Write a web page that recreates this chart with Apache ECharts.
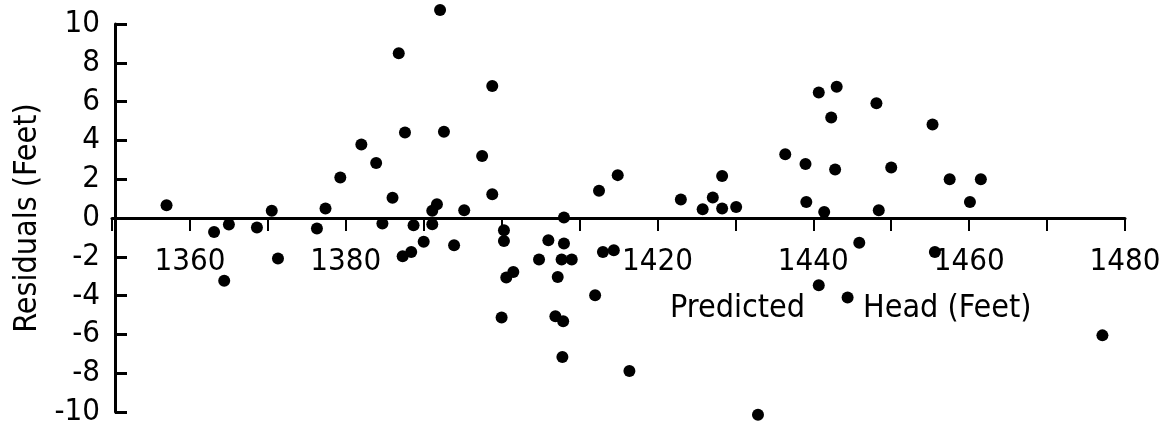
<!DOCTYPE html>
<html>
<head>
<meta charset="utf-8">
<script src="https://cdn.jsdelivr.net/npm/echarts@6/dist/echarts.min.js"></script>
<style>
html,body{margin:0;padding:0;background:#fff;}
#chart{width:1170px;height:429px;}
</style>
</head>
<body>
<div id="chart"></div>
<script>
// Predicted head (feet)
const predictedHead = [
  1357.0, 1363.1, 1364.4, 1365.0, 1368.6, 1370.5, 1371.3, 1376.3, 1377.4, 1379.3,
  1382.0, 1383.9, 1384.7, 1386.0, 1386.8, 1387.6, 1387.3, 1388.4, 1388.7, 1390.0,
  1391.1, 1391.7, 1391.1, 1392.1, 1392.6, 1393.9, 1395.2, 1397.5, 1398.8, 1398.8,
  1400.3, 1400.3, 1400.6, 1401.5, 1400.0, 1404.8, 1406.0, 1406.9, 1407.2, 1407.7,
  1407.8, 1407.9, 1408.0, 1408.0, 1409.0, 1412.0, 1412.5, 1413.0, 1414.4, 1414.9,
  1416.4, 1423.0, 1425.8, 1427.1, 1428.3, 1428.3, 1430.1, 1432.9, 1436.4, 1439.0,
  1439.1, 1440.7, 1440.7, 1441.4, 1442.3, 1442.8, 1443.0, 1444.4, 1445.9, 1448.1,
  1448.4, 1450.0, 1455.3, 1455.6, 1457.5, 1460.1, 1461.5, 1477.1
];
// Residuals (feet)
const residuals = [
  0.66, -0.72, -3.24, -0.34, -0.49, 0.37, -2.09, -0.54, 0.49, 2.09,
  3.79, 2.84, -0.28, 1.04, 8.49, 4.41, -1.97, -1.75, -0.37, -1.23,
  0.37, 0.71, -0.32, 10.72, 4.44, -1.40, 0.40, 3.20, 6.80, 1.23,
  -0.63, -1.18, -3.07, -2.78, -5.13, -2.14, -1.15, -5.07, -3.04, -2.14,
  -7.17, -5.32, 0.03, -1.32, -2.14, -3.98, 1.40, -1.75, -1.66, 2.21,
  -7.89, 0.95, 0.45, 1.06, 2.16, 0.49, 0.57, -10.14, 3.29, 2.78,
  0.83, 6.47, -3.47, 0.31, 5.18, 2.50, 6.76, -4.10, -1.28, 5.91,
  0.40, 2.60, 4.82, -1.75, 2.00, 0.83, 2.00, -6.05
];
// Tick labels shown on the x axis
const xTickLabels = [1360, 1380, 1420, 1440, 1460, 1480];
const xTitleParts = ['Predicted', 'Head (Feet)'];
const yTitle = 'Residuals (Feet)';

const FONT = '"Liberation Sans Narrow", "DejaVu Sans Condensed", "Arial Narrow", sans-serif';
const points = predictedHead.map((x, i) => [x, residuals[i]]);

const GRID_TOP = 24, GRID_BOTTOM = 17, H = 429;
const plotH = H - GRID_TOP - GRID_BOTTOM;

const chart = echarts.init(document.getElementById('chart'), null, {renderer: 'canvas'});
chart.setOption({
  animation: false,
  backgroundColor: '#fff',
  grid: {left: 112, right: 45, top: GRID_TOP, bottom: GRID_BOTTOM, containLabel: false, outerBoundsMode: 'none'},
  xAxis: {
    type: 'value', min: 1350, max: 1480, interval: 10,
    position: 'bottom', offset: -plotH / 2,
    axisLine: {onZero: false, lineStyle: {color: '#000', width: 3}},
    axisTick: {show: true, inside: false, length: 13, lineStyle: {color: '#000', width: 2}},
    axisLabel: {
      color: '#000', fontFamily: FONT, fontSize: 31, margin: 28,
      formatter: v => xTickLabels.includes(Math.round(v)) ? String(Math.round(v)) : ''
    },
    splitLine: {show: false}
  },
  yAxis: {
    type: 'value', min: -10, max: 10, interval: 2, offset: -3,
    name: yTitle, nameLocation: 'middle', nameRotate: 90, nameGap: 62,
    nameTextStyle: {color: '#000', fontFamily: FONT, fontSize: 32},
    axisLine: {show: true, lineStyle: {color: '#000', width: 3}},
    axisTick: {show: true, inside: true, length: 12, lineStyle: {color: '#000', width: 3}},
    axisLabel: {color: '#000', fontFamily: FONT, fontSize: 31, margin: 15,
      formatter: v => String(v)},
    splitLine: {show: false}
  },
  graphic: [
    {type: 'text', left: 670, top: 293, style: {text: xTitleParts[0], font: '32px ' + FONT, fill: '#000'}},
    {type: 'text', left: 863, top: 293, style: {text: xTitleParts[1], font: '32px ' + FONT, fill: '#000'}}
  ],
  series: [{
    type: 'scatter', data: points, symbol: 'circle', symbolSize: 12,
    itemStyle: {color: '#000', opacity: 1}, clip: false
  }]
});
</script>
</body>
</html>
